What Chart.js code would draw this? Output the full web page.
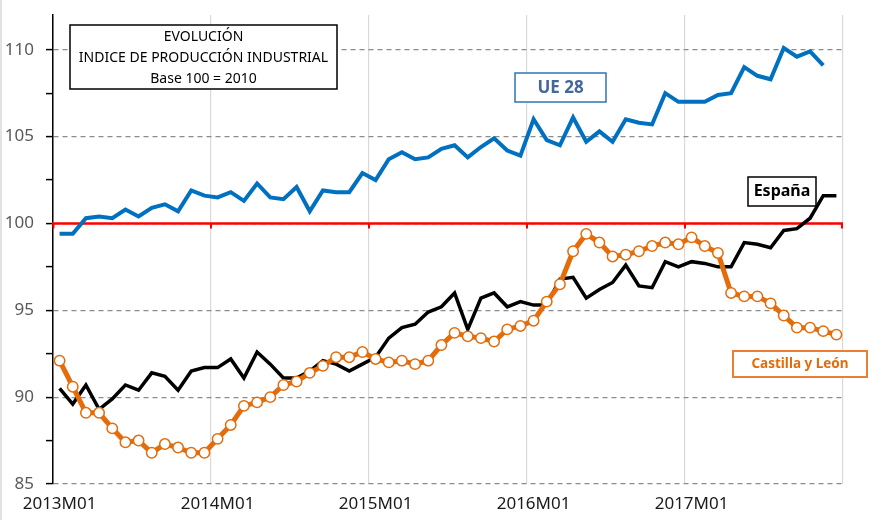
<!DOCTYPE html>
<html>
<head>
<meta charset="utf-8">
<script src="https://cdn.jsdelivr.net/npm/chart.js@4"></script>
<style>
  body { margin: 0; background: #fff; }
  canvas { display: block; }
</style>
</head>
<body>
<canvas id="c" width="883" height="520"></canvas>
<script>
// months 2013M01 .. 2017M12
var years = ["2013", "2014", "2015", "2016", "2017"];
var months = ["01", "02", "03", "04", "05", "06", "07", "08", "09", "10", "11", "12"];
var labels = [];
years.forEach(function (y) { months.forEach(function (m) { labels.push(y + "M" + m); }); });

var ue28 = [99.4, 99.4, 100.3, 100.4, 100.3, 100.8, 100.4, 100.9, 101.1, 100.7,
    101.9, 101.6, 101.5, 101.8, 101.3, 102.3, 101.5, 101.4, 102.1, 100.7,
    101.9, 101.8, 101.8, 102.9, 102.5, 103.7, 104.1, 103.7, 103.8, 104.3,
    104.5, 103.8, 104.4, 104.9, 104.2, 103.9, 106.0, 104.8, 104.5, 106.1,
    104.7, 105.3, 104.7, 106.0, 105.8, 105.7, 107.5, 107.0, 107.0, 107.0,
    107.4, 107.5, 109.0, 108.5, 108.3, 110.1, 109.6, 109.9, 109.1, null];

var espana = [90.5, 89.6, 90.7, 89.3, 89.9, 90.7, 90.4, 91.4, 91.2, 90.4,
    91.5, 91.7, 91.7, 92.2, 91.1, 92.6, 91.9, 91.1, 91.1, 91.5,
    92.1, 91.9, 91.5, 91.9, 92.3, 93.4, 94.0, 94.2, 94.9, 95.2,
    96.0, 93.9, 95.7, 96.0, 95.2, 95.5, 95.3, 95.3, 96.8, 96.9,
    95.7, 96.2, 96.6, 97.6, 96.4, 96.3, 97.8, 97.5, 97.8, 97.7,
    97.5, 97.5, 98.9, 98.8, 98.6, 99.6, 99.7, 100.3, 101.6, 101.6];

var castillaLeon = [92.1, 90.6, 89.1, 89.1, 88.2, 87.4, 87.5, 86.8, 87.3, 87.1,
    86.8, 86.8, 87.6, 88.4, 89.5, 89.7, 90.0, 90.7, 90.9, 91.4,
    91.8, 92.3, 92.3, 92.6, 92.2, 92.0, 92.1, 91.9, 92.1, 93.0,
    93.7, 93.5, 93.4, 93.2, 93.9, 94.1, 94.4, 95.5, 96.5, 98.4,
    99.4, 98.9, 98.1, 98.2, 98.4, 98.7, 98.9, 98.8, 99.2, 98.7,
    98.3, 96.0, 95.8, 95.8, 95.4, 94.7, 94.0, 94.0, 93.8, 93.6];

var baseLine = 100;

var chartFont = "'Noto Sans', sans-serif";

function box(ctx, x, y, w, h, border, lw) {
    ctx.save();
    ctx.fillStyle = "#fff";
    ctx.fillRect(x, y, w, h);
    ctx.strokeStyle = border;
    ctx.lineWidth = lw;
    ctx.strokeRect(x, y, w, h);
    ctx.restore();
}

function text(ctx, str, x, y, font, color) {
    ctx.save();
    ctx.font = font;
    ctx.fillStyle = color;
    ctx.textAlign = "center";
    ctx.textBaseline = "middle";
    ctx.fillText(str, x, y);
    ctx.restore();
}

var extras = {
    id: "extras",
    beforeDatasetsDraw: function (chart) {
        var ctx = chart.ctx, a = chart.chartArea;
        var xs = chart.scales.x, ys = chart.scales.y;
        var y = ys.getPixelForValue(baseLine);
        var half = (xs.getPixelForValue(1) - xs.getPixelForValue(0)) / 2;
        ctx.save();
        ctx.strokeStyle = "#FF0000";
        ctx.lineWidth = 2.5;
        ctx.beginPath();
        ctx.moveTo(a.left - 1, y);
        ctx.lineTo(a.right, y);
        ctx.stroke();
        ctx.lineWidth = 2;
        for (var i = 0; i <= labels.length; i += 12) {
            var x = xs.getPixelForValue(i) - half;
            if (i === 0) x += 0.5;
            if (i === labels.length) x -= 1;
            ctx.beginPath();
            ctx.moveTo(x, y);
            ctx.lineTo(x, y + 5);
            ctx.stroke();
        }
        ctx.restore();
    },
    afterDraw: function (chart) {
        var ctx = chart.ctx;
        ctx.save();
        ctx.strokeStyle = "#D9D9D9";
        ctx.lineWidth = 1.5;
        ctx.beginPath();
        ctx.moveTo(1, 0);
        ctx.lineTo(1, 520);
        ctx.stroke();
        ctx.restore();

        box(ctx, 70, 25, 267, 64, "#000", 1.5);
        text(ctx, "EVOLUCIÓN", 203.5, 37, "14px " + chartFont, "#000");
        text(ctx, "INDICE DE PRODUCCIÓN INDUSTRIAL", 203.5, 58, "14px " + chartFont, "#000");
        text(ctx, "Base 100 = 2010", 203.5, 79, "14px " + chartFont, "#000");

        box(ctx, 515, 73, 91, 29, "#2E75B6", 1.5);
        text(ctx, "UE 28", 560.5, 88, "bold 17px " + chartFont, "#44679C");

        box(ctx, 748, 177, 68, 29, "#000", 1.5);
        text(ctx, "España", 782, 191, "bold 16px " + chartFont, "#000");

        box(ctx, 733, 351, 134, 26, "#ED7D31", 2);
        text(ctx, "Castilla y León", 800, 364, "bold 13.5px " + chartFont, "#E46C0A");
    }
};

new Chart(document.getElementById("c"), {
    type: "line",
    data: {
        labels: labels,
        datasets: [
            {
                label: "España",
                data: espana,
                borderColor: "#000",
                borderWidth: 3.5,
                pointRadius: 0,
                tension: 0,
                order: 2,
            },
            {
                label: "Castilla y León",
                data: castillaLeon,
                borderColor: "#E46C0A",
                borderWidth: 5,
                pointRadius: 5.2,
                pointBorderWidth: 1.5,
                pointBackgroundColor: "#fff",
                pointBorderColor: "#E46C0A",
                tension: 0,
                order: 1,
            },
            {
                label: "UE 28",
                data: ue28,
                borderColor: "#0070C0",
                borderWidth: 4,
                pointRadius: 0,
                tension: 0,
                order: 0,
            },
        ],
    },
    options: {
        responsive: false,
        animation: false,
        layout: {
            padding: { top: 15, right: 40, left: 0, bottom: 0 },
        },
        plugins: {
            legend: { display: false },
            tooltip: { enabled: false },
        },
        scales: {
            x: {
                type: "category",
                offset: true,
                afterFit: function (s) { s.height = 36; s.paddingLeft = 0; s.paddingRight = 0; },
                border: { display: false },
                grid: {
                    offset: true,
                    drawTicks: false,
                    lineWidth: 1.2,
                    color: function (ctx) {
                        if (ctx.index === undefined || ctx.index % 12 === 0) return "#D9D9D9";
                        return "rgba(0,0,0,0)";
                    },
                },
                ticks: {
                    autoSkip: false,
                    maxRotation: 0,
                    padding: 10,
                    color: "#1a1a1a",
                    font: { family: chartFont, size: 17 },
                    callback: function (v, i) { return i % 12 === 0 ? labels[i] : ""; },
                },
            },
            y: {
                min: 85,
                max: 112,
                afterFit: function (s) { s.width = 53; s.paddingTop = 0; s.paddingBottom = 0; },
                border: { display: true, color: "#000", width: 1.5, dash: [5, 4] },
                grid: {
                    drawTicks: true,
                    tickLength: 7,
                    tickColor: "#000",
                    tickWidth: 1.5,
                    lineWidth: 1.2,
                    color: function (ctx) {
                        var v = ctx.tick ? ctx.tick.value : null;
                        return v !== null && v % 5 === 0 ? "#8C8C8C" : "rgba(0,0,0,0)";
                    },
                },
                ticks: {
                    stepSize: 2.5,
                    includeBounds: false,
                    padding: 12,
                    color: "#595959",
                    font: { family: chartFont, size: 17 },
                    callback: function (v) { return v % 5 === 0 ? v : ""; },
                },
            },
        },
    },
    plugins: [extras],
});
</script>
</body>
</html>
